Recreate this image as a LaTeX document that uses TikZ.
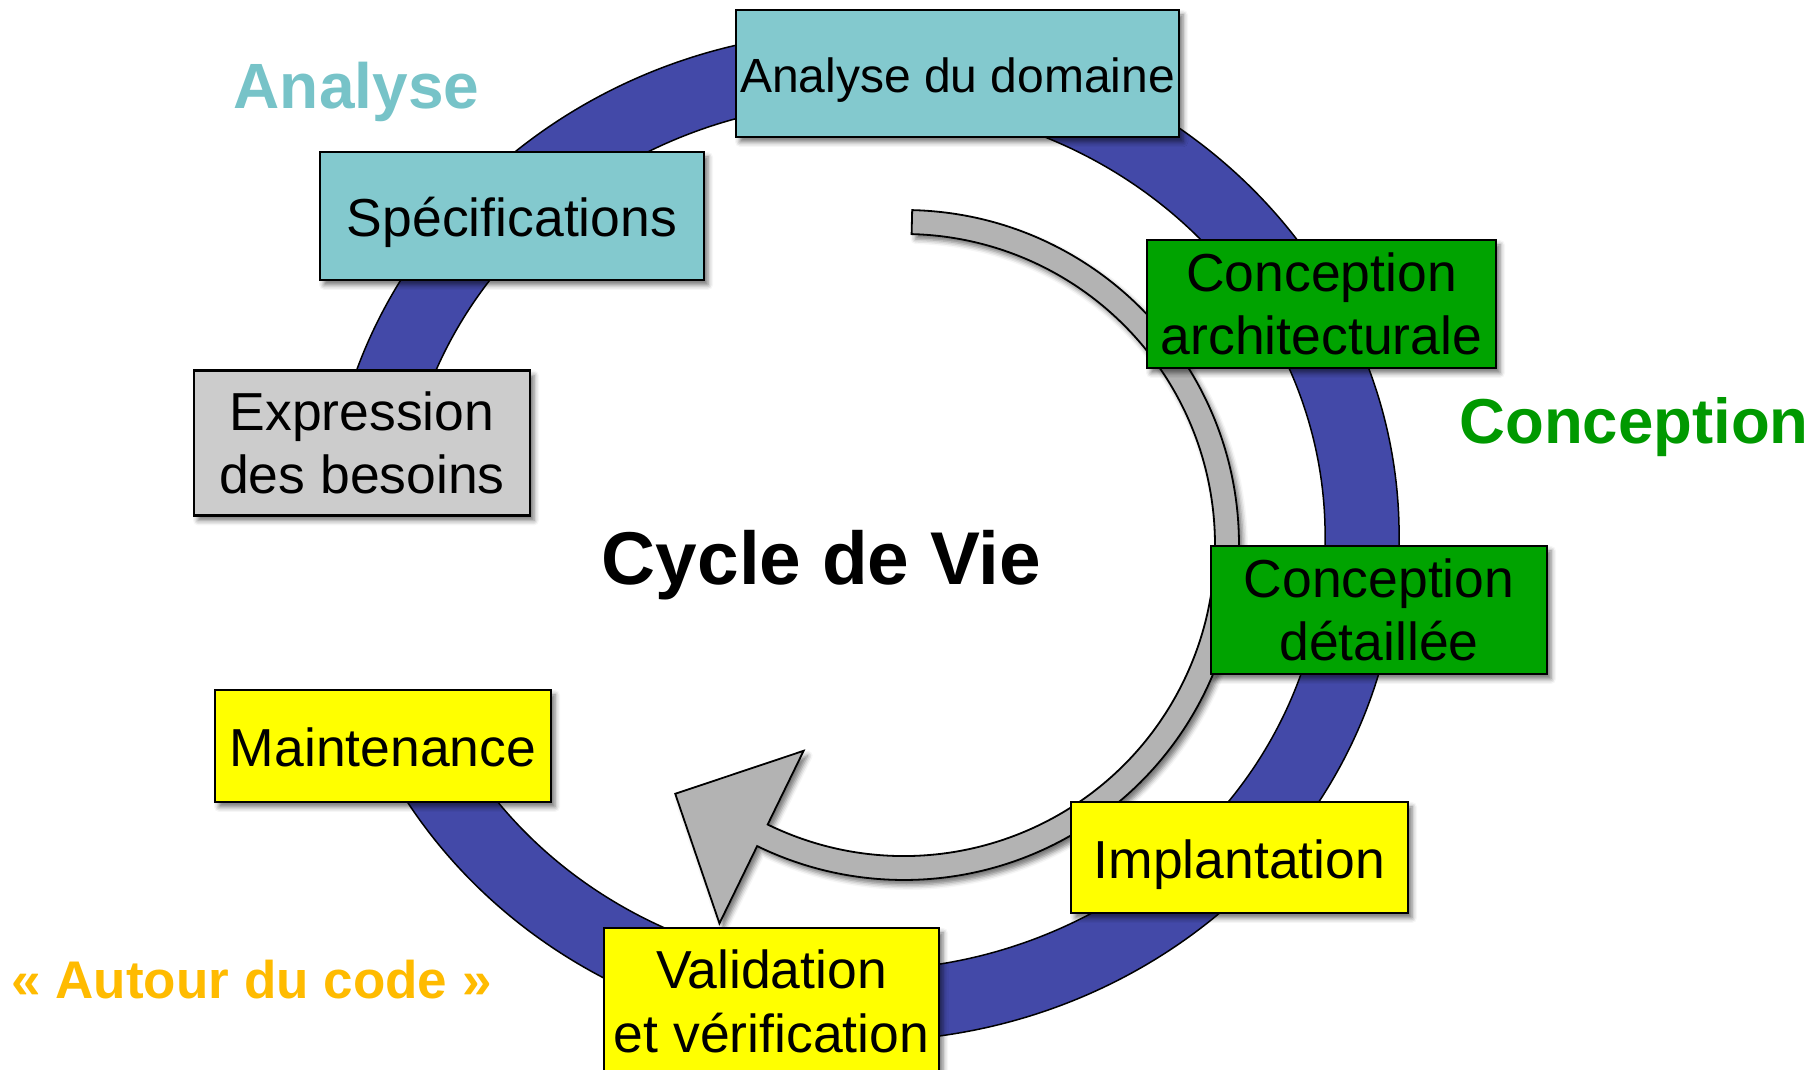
\documentclass[tikz,border=0pt]{standalone}
\usepackage{fontspec}
\setmainfont{Liberation Sans}
\usetikzlibrary{shadows.blur}

\definecolor{ringblue}{RGB}{67,73,168}
\definecolor{loopgray}{RGB}{179,179,179}
\definecolor{tealbox}{RGB}{131,201,206}
\definecolor{greenbox}{RGB}{0,163,0}
\definecolor{yellowbox}{RGB}{255,255,0}
\definecolor{graybox}{RGB}{204,204,204}
\definecolor{tealtitle}{RGB}{119,195,200}
\definecolor{greentitle}{RGB}{0,153,0}
\definecolor{orangetitle}{RGB}{255,187,0}

\tikzset{
  softshadow/.style={blur shadow={shadow xshift=4pt, shadow yshift=-5pt,
      shadow blur radius=5pt, shadow opacity=55}},
  phase/.style={draw=black, line width=2.4pt, inner sep=0pt, align=center,
      font=\fontsize{53.5}{63.5}\selectfont, softshadow},
  oneline/.style={text height=42pt, text depth=0pt},
  analysis/.style={phase, fill=tealbox},
  design/.style={phase, fill=greenbox},
  coding/.style={phase, fill=yellowbox},
  needs/.style={phase, fill=graybox},
  ring/.style={draw=black, line width=1.5pt, fill=ringblue},
  loop/.style={draw=black, line width=1.8pt, fill=loopgray, line join=miter, softshadow},
  title/.style={font=\bfseries\fontsize{64}{70}\selectfont, anchor=base}
}

\begin{document}
\begin{tikzpicture}[x=1pt,y=1pt]
  \useasboundingbox (0,0) rectangle (1818,1070);
  \clip (0,0) rectangle (1818,1070);

  % outer phase ring, open on the left between the two end boxes
  \coordinate (rc) at (863,534);
  \draw[ring] ([shift={(rc)}]170:536 and 505)
      arc[start angle=170, end angle=-155, x radius=536, y radius=505]
      -- ([shift={(rc)}]-155:462 and 434)
      arc[start angle=-155, end angle=170, x radius=462, y radius=434]
      -- cycle;

  % inner circular arrow
  \coordinate (gc) at (904,525);
  \draw[loop] ([shift={(gc)}]88.6:335)
      arc[start angle=88.6, end angle=-116, radius=335]
      -- ([shift={(gc)}]-116:421)
      -- ([shift={(gc)}]-132.6:338)
      -- ([shift={(gc)}]-116:229)
      -- ([shift={(gc)}]-116:311)
      arc[start angle=-116, end angle=88.6, radius=311]
      -- cycle;

  % phase boxes
  \node[analysis, minimum width=443pt, minimum height=127pt,
        font=\fontsize{48}{58}\selectfont, text height=39pt, text depth=0pt]
        (dom) at (957.5,996.5) {Analyse du domaine};
  \node[analysis, oneline, minimum width=384pt, minimum height=128pt] (spec) at (512,854) {Spécifications};
  \node[needs, minimum width=336pt, minimum height=145pt] (expr) at (362,627) {Expression\\des besoins};
  \node[design, minimum width=349pt, minimum height=128pt] (arch) at (1321.5,766) {Conception\\architecturale};
  \node[design, minimum width=336pt, minimum height=128pt] (det) at (1379,460) {Conception\\détaillée};
  \node[coding, oneline, minimum width=337pt, minimum height=111pt] (impl) at (1239.5,212.5) {Implantation};
  \node[coding, minimum width=335pt, minimum height=147pt] (valid) at (771.5,68.5) {Validation\\et vérification};
  \node[coding, oneline, minimum width=336pt, minimum height=112pt] (maint) at (383,324) {Maintenance};

  % group titles
  \node[title, text=tealtitle] (tana) at (356.5,961.5) {Analyse};
  \node[title, text=greentitle, font=\bfseries\fontsize{63.5}{70}\selectfont] (tcon) at (1634,626.5) {Conception};
  \node[title, text=orangetitle, font=\bfseries\fontsize{53}{60}\selectfont] (tcode) at (251.5,71) {« Autour du code »};
  \node[title, text=black, font=\bfseries\fontsize{74.8}{80}\selectfont] (cycle) at (821.5,485) {Cycle de Vie};
\end{tikzpicture}
\end{document}
